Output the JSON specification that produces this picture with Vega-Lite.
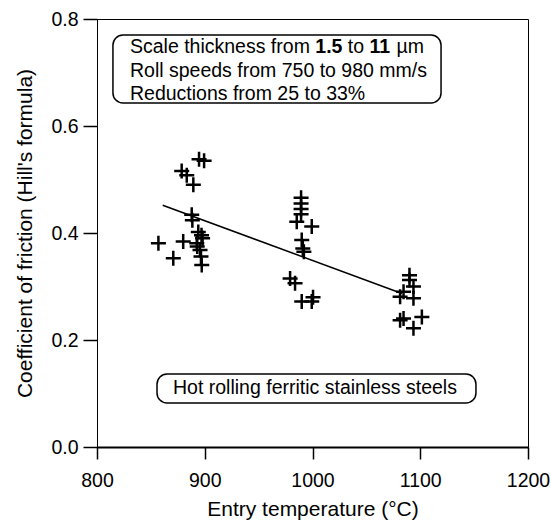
{
  "$schema": "https://vega.github.io/schema/vega-lite/v6.json",
  "width": 431,
  "height": 428,
  "autosize": {"type": "none"},
  "padding": {"left": 97, "top": 19, "right": 23, "bottom": 74},
  "background": "white",
  "config": {
    "view": {"stroke": "black", "strokeWidth": 1},
    "font": "Liberation Sans",
    "axis": {"grid": false, "domainColor": "black", "tickColor": "black", "labelColor": "black", "titleColor": "black", "labelFont": "Liberation Sans", "titleFont": "Liberation Sans", "titleFontWeight": "normal", "labelFlush": false, "labelOverlap": false, "labelBound": false}
  },
  "datasets": {
    "points": [
      {"temp": 857, "cof": 0.381}, {"temp": 870.8, "cof": 0.353}, {"temp": 880, "cof": 0.384}, {"temp": 892.6, "cof": 0.381},
      {"temp": 895.6, "cof": 0.368}, {"temp": 896.5, "cof": 0.356}, {"temp": 897.2, "cof": 0.34}, {"temp": 887.9, "cof": 0.434},
      {"temp": 888.5, "cof": 0.424}, {"temp": 894, "cof": 0.402}, {"temp": 897, "cof": 0.396}, {"temp": 878.6, "cof": 0.516},
      {"temp": 883.3, "cof": 0.508}, {"temp": 889.4, "cof": 0.49}, {"temp": 894.7, "cof": 0.538}, {"temp": 899.4, "cof": 0.535},
      {"temp": 893, "cof": 0.375}, {"temp": 898, "cof": 0.39},
      {"temp": 989.4, "cof": 0.466}, {"temp": 989.4, "cof": 0.455}, {"temp": 989.4, "cof": 0.445}, {"temp": 989.4, "cof": 0.435},
      {"temp": 985.4, "cof": 0.421}, {"temp": 999.3, "cof": 0.412}, {"temp": 990, "cof": 0.387}, {"temp": 991, "cof": 0.371},
      {"temp": 992, "cof": 0.365}, {"temp": 979.2, "cof": 0.315}, {"temp": 983.8, "cof": 0.306}, {"temp": 990, "cof": 0.272},
      {"temp": 999.3, "cof": 0.272}, {"temp": 1000.5, "cof": 0.28},
      {"temp": 1090, "cof": 0.321}, {"temp": 1090, "cof": 0.312}, {"temp": 1093.7, "cof": 0.3}, {"temp": 1084.5, "cof": 0.29},
      {"temp": 1081.3, "cof": 0.281}, {"temp": 1093.7, "cof": 0.278}, {"temp": 1081.3, "cof": 0.237}, {"temp": 1084.5, "cof": 0.24},
      {"temp": 1101.5, "cof": 0.243}, {"temp": 1093.7, "cof": 0.222}
    ],
    "fit": [{"temp": 861, "cof": 0.452}, {"temp": 1083, "cof": 0.287}],
    "boxes": [
      {"x1": 814.8, "x2": 1119.3, "y1": 0.77, "y2": 0.643},
      {"x1": 855.7, "x2": 1151.7, "y1": 0.1364, "y2": 0.0822}
    ],
    "leftText": [
      {"temp": 830.6, "cof": 0.748, "text": "Scale thickness from"},
      {"temp": 1032.7, "cof": 0.748, "text": "to"},
      {"temp": 1078.0, "cof": 0.748, "text": "µm"},
      {"temp": 830.6, "cof": 0.703, "text": "Roll speeds from 750 to 980 mm/s"},
      {"temp": 830.6, "cof": 0.66, "text": "Reductions from 25 to 33%"}
    ],
    "boldText": [
      {"temp": 1002.6, "cof": 0.748, "text": "1.5"},
      {"temp": 1052.9, "cof": 0.748, "text": "11"}
    ],
    "centerText": [
      {"temp": 1002.3, "cof": 0.11, "text": "Hot rolling ferritic stainless steels"}
    ]
  },
  "layer": [
    {
      "data": {"name": "points"},
      "mark": {"type": "point", "shape": "M-1,0L1,0M0,-1L0,1", "filled": false, "size": 225, "strokeWidth": 2.5, "color": "black", "opacity": 1},
      "encoding": {
        "x": {"field": "temp", "type": "quantitative", "scale": {"domain": [800, 1200], "nice": false, "zero": false},
          "axis": {"values": [800, 900, 1000, 1100, 1200], "format": "d", "domainWidth": 2, "tickWidth": 1.5, "tickSize": 12, "labelFontSize": 19.5, "labelPadding": 12, "title": "Entry temperature (°C)", "titleFontSize": 21, "titleY": 62, "titleBaseline": "middle"}},
        "y": {"field": "cof", "type": "quantitative", "scale": {"domain": [0, 0.8], "nice": false},
          "axis": {"values": [0, 0.2, 0.4, 0.6, 0.8], "format": ".1f", "domainWidth": 1, "tickWidth": 1.5, "tickSize": 14, "labelFontSize": 19.5, "labelPadding": 5, "title": "Coefficient of friction (Hill's formula)", "titleFontSize": 21, "titleX": -72, "titleBaseline": "middle"}}
      }
    },
    {
      "data": {"name": "fit"},
      "mark": {"type": "line", "color": "black", "strokeWidth": 1.5},
      "encoding": {
        "x": {"field": "temp", "type": "quantitative"},
        "y": {"field": "cof", "type": "quantitative"}
      }
    },
    {
      "data": {"name": "boxes"},
      "mark": {"type": "rect", "fill": "white", "stroke": "black", "strokeWidth": 1.5, "cornerRadius": 10},
      "encoding": {
        "x": {"field": "x1", "type": "quantitative"},
        "x2": {"field": "x2"},
        "y": {"field": "y1", "type": "quantitative"},
        "y2": {"field": "y2"}
      }
    },
    {
      "data": {"name": "leftText"},
      "mark": {"type": "text", "align": "left", "baseline": "middle", "fontSize": 19.5, "color": "black", "font": "Liberation Sans"},
      "encoding": {
        "x": {"field": "temp", "type": "quantitative"},
        "y": {"field": "cof", "type": "quantitative"},
        "text": {"field": "text"}
      }
    },
    {
      "data": {"name": "boldText"},
      "mark": {"type": "text", "align": "left", "baseline": "middle", "fontSize": 19.5, "fontWeight": "bold", "color": "black", "font": "Liberation Sans"},
      "encoding": {
        "x": {"field": "temp", "type": "quantitative"},
        "y": {"field": "cof", "type": "quantitative"},
        "text": {"field": "text"}
      }
    },
    {
      "data": {"name": "centerText"},
      "mark": {"type": "text", "align": "center", "baseline": "middle", "fontSize": 19.5, "color": "black", "font": "Liberation Sans"},
      "encoding": {
        "x": {"field": "temp", "type": "quantitative"},
        "y": {"field": "cof", "type": "quantitative"},
        "text": {"field": "text"}
      }
    }
  ]
}
